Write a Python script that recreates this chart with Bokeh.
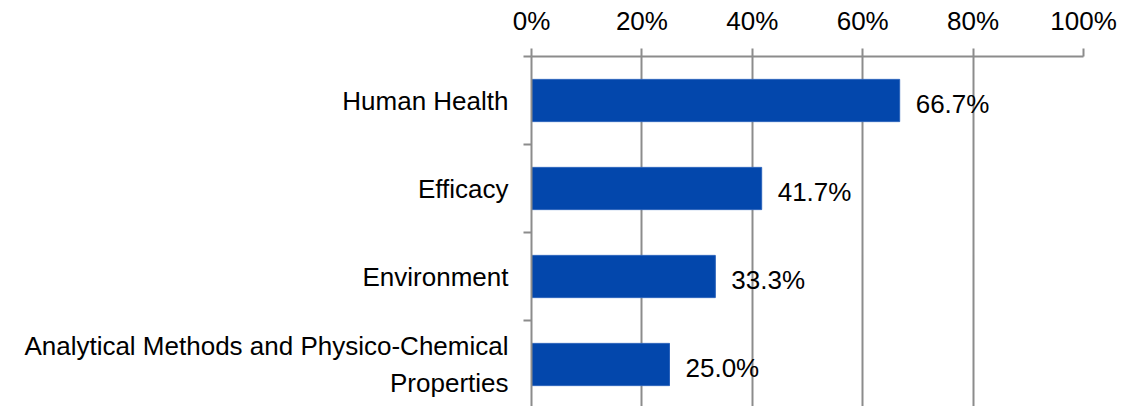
from bokeh.plotting import figure
from bokeh.models import Range1d, FixedTicker, PrintfTickFormatter, ColumnDataSource
from bokeh.core.properties import value
from bokeh.embed import file_html
from bokeh.resources import INLINE

categories = ["Human Health", "Efficacy", "Environment",
              "Analytical Methods and Physico-Chemical\nProperties"]
shares = [66.7, 41.7, 33.3, 25.0]
x_ticks = [0, 20, 40, 60, 80, 100]

n = len(categories)
ys = [n - i - 0.5 for i in range(n)]
labels = ["%.1f%%" % v for v in shares]

FONT = "Liberation Sans"
GRAY = "#8c8c8c"
FS = "26px"
LEFT = 531

p = figure(width=1126, height=406, output_backend="svg", toolbar_location=None,
           x_range=Range1d(0, 100), y_range=Range1d(4 - 350 / 88, 4),
           x_axis_location="above", min_border_left=LEFT, min_border_right=43,
           min_border_top=56, min_border_bottom=0)
p.outline_line_color = None
p.background_fill_color = "white"

src = ColumnDataSource(dict(y=ys, v=shares, t=labels))
p.hbar(y="y", left=0, right="v", height=0.48, source=src,
       fill_color="#0347AC", line_color="#2a62bb", line_width=1)
p.text(x="v", y="y", text="t", source=src, x_offset=16, y_offset=3,
       text_align="left", text_baseline="middle",
       text_font=value(FONT), text_font_size=FS, text_color="black")

xa = p.xaxis[0]
xa.ticker = FixedTicker(ticks=x_ticks)
xa.formatter = PrintfTickFormatter(format="%d%%")
xa.axis_line_color = GRAY
xa.axis_line_width = 2
xa.major_tick_line_color = GRAY
xa.major_tick_line_width = 2
xa.major_tick_out = 8
xa.major_tick_in = 0
xa.minor_tick_line_color = None
xa.major_label_text_font = FONT
xa.major_label_text_font_size = FS
xa.major_label_text_color = "black"
xa.major_label_standoff = 13

ya = p.yaxis[0]
ya.ticker = FixedTicker(ticks=ys, minor_ticks=list(range(0, n + 1)))
ya.major_label_overrides = {y: c for y, c in zip(ys, categories)}
ya.axis_line_color = GRAY
ya.axis_line_width = 2
ya.major_tick_line_color = None
ya.major_tick_out = 0
ya.major_tick_in = 0
ya.minor_tick_line_color = GRAY
ya.minor_tick_line_width = 2
ya.minor_tick_out = 8
ya.minor_tick_in = 0
ya.major_label_text_font = FONT
ya.major_label_text_font_size = FS
ya.major_label_text_color = "black"
ya.major_label_text_line_height = 1.22
ya.major_label_standoff = 15

p.xgrid.ticker = FixedTicker(ticks=x_ticks)
p.xgrid.grid_line_color = GRAY
p.xgrid.grid_line_width = 2
p.ygrid.grid_line_color = None

open("out.html", "w").write(file_html(p, INLINE))
